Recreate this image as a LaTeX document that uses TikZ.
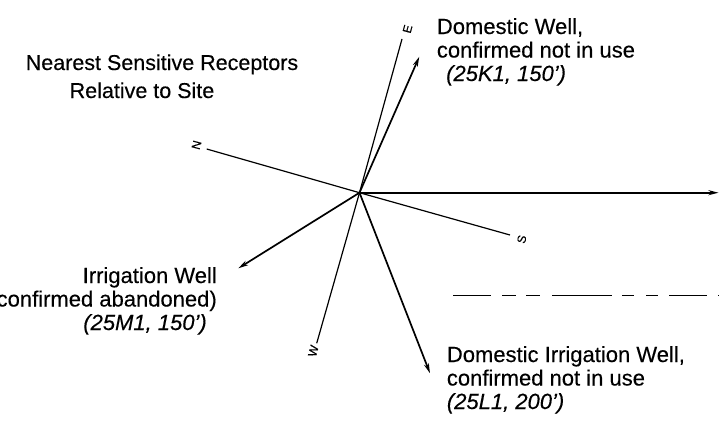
\documentclass[tikz,border=0pt]{standalone}
\usepackage{fontspec}
\setmainfont{Liberation Sans}[FakeBold=0.25]
\usetikzlibrary{arrows.meta}
\begin{document}
\begin{tikzpicture}[x=1pt,y=-1pt,
  lbl/.style={font=\fontsize{22}{24}\selectfont, inner sep=0pt},
  ilbl/.style={lbl, font=\fontsize{22}{24}\selectfont\itshape},
  ttl/.style={font=\fontsize{21.5}{24}\selectfont, inner sep=0pt},
  dirlbl/.style={font=\fontsize{12}{12}\selectfont, inner sep=0pt, rotate=75},
  axisline/.style={line width=1.2pt},
  ptr/.style={line width=1.7pt, -{Stealth[length=10pt,width=5pt]}},
  dashline/.style={line width=1pt, dash pattern=on 38pt off 11pt on 14pt off 10pt on 14pt off 12pt on 60pt off 10pt on 12pt off 12pt on 12pt off 11pt}]
\useasboundingbox (0,0) rectangle (719,434);
\clip (0,0) rectangle (719,434);
\fill[white] (0,0) rectangle (719,434);
% centre and compass ends
\coordinate (C) at (359.5,192.7);
\coordinate (Ne) at (206.7,149);
\coordinate (Ee) at (402,39);
\coordinate (Se) at (510,235);
\coordinate (We) at (316.7,343.3);
\draw[axisline] (C) -- (Ne);
\draw[axisline] (C) -- (Ee);
\draw[axisline] (C) -- (Se);
\draw[axisline] (C) -- (We);
\node[dirlbl] (Nl) at (196.5,145) {N};
\node[dirlbl] (El) at (407.5,29) {E};
\node[dirlbl] (Sl) at (521.7,239.3) {S};
\node[dirlbl] (Wl) at (313.3,351) {W};
% arrow ends
\coordinate (A1) at (419.3,56.7);
\coordinate (A2) at (718.5,192.7);
\coordinate (A3) at (238.3,268.3);
\coordinate (A4) at (430,373.3);
\draw[ptr] (C) -- (A1);
\draw[ptr] (C) -- (A2);
\draw[ptr] (C) -- (A3);
\draw[ptr] (C) -- (A4);
% dashed line
\coordinate (D1) at (453,295.7);
\coordinate (D2) at (719,295.7);
\draw[dashline] (D1) -- (D2);
% title
\node[ttl, anchor=base] (t1) at (162,70) {Nearest Sensitive Receptors};
\node[ttl, anchor=base] (t2) at (142,98) {Relative to Site};
% domestic well
\node[lbl, anchor=base west] (dw1) at (436.7,34) {Domestic Well,};
\node[lbl, anchor=base west] (dw2) at (436.7,57.5) {confirmed not in use};
\node[ilbl, anchor=base west] (dw3) at (446,81) {(25K1, 150')};
% irrigation well
\node[lbl, anchor=base east] (iw1) at (217,283) {Irrigation Well};
\node[lbl, anchor=base east] (iw2) at (217,306.5) {(confirmed abandoned)};
\node[ilbl, anchor=base east] (iw3) at (207,330) {(25M1, 150')};
% domestic irrigation well
\node[lbl, anchor=base west] (di1) at (446.7,362) {Domestic Irrigation Well,};
\node[lbl, anchor=base west] (di2) at (446.7,385.5) {confirmed not in use};
\node[ilbl, anchor=base west] (di3) at (446.7,409) {(25L1, 200')};
\end{tikzpicture}
\end{document}
